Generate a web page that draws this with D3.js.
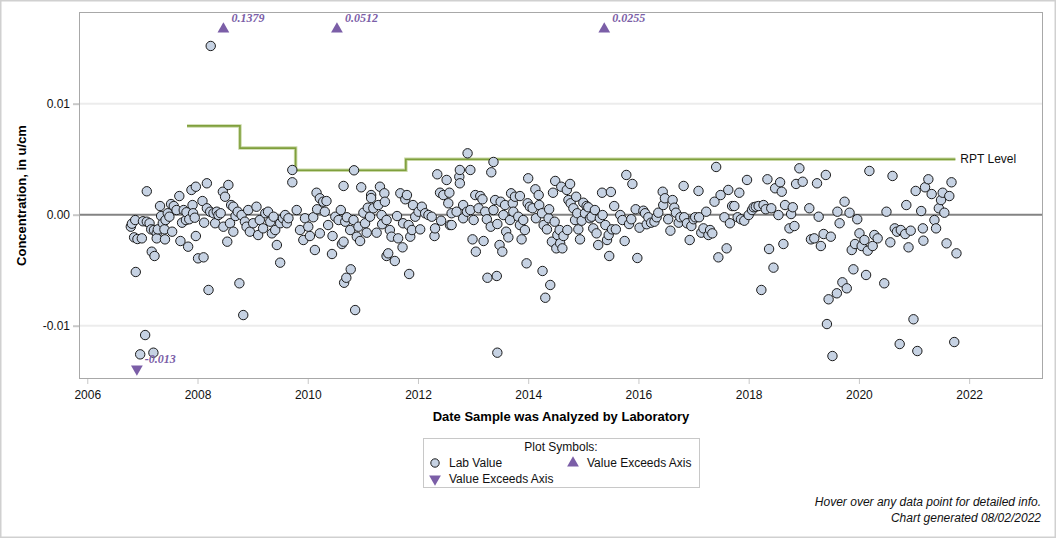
<!DOCTYPE html>
<html><head><meta charset="utf-8">
<script src="https://cdn.jsdelivr.net/npm/d3@7"></script>
<style>
html,body{margin:0;padding:0;background:#fff;}
svg{display:block;font-family:"Liberation Sans",Arial,sans-serif;}
</style></head>
<body><svg id="chart" width="1056" height="538"></svg>
<script>
// ---- data ----
const xTickYears = [2006,2008,2010,2012,2014,2016,2018,2020,2022];
const yTickValues = [-0.01, 0, 0.01];
const yTickLabels = ["-0.01","0.00","0.01"];

// RPT level steps (start dates and levels; last date ends the line)
const rptDates = [2007.81, 2008.77, 2009.78, 2011.78, 2021.75];
const rptLevels = [0.008, 0.006, 0.004, 0.005, 0.005];

// values exceeding axis
const exceedUpDates = [2008.47, 2010.53, 2015.38];
const exceedUpLabels = ["0.1379", "0.0512", "0.0255"];
const exceedDownDates = [2006.90];
const exceedDownLabels = ["-0.013"];

// lab values: [decimal year, concentration]
const labSamples = [
[2006.79,-0.00108],[2006.81,-0.00081],[2006.87,-0.00048],[2006.85,-0.00204],[2006.88,-0.00516],
[2006.91,-0.00219],[2006.99,-0.00213],[2006.96,-0.01258],[2007.01,-0.00059],[2007.05,-0.01084],
[2007.08,0.00211],[2007.08,-0.00063],[2007.13,-0.00077],[2007.17,-0.00333],[2007.20,-0.01243],
[2007.22,-0.00372],[2007.16,-0.00132],[2007.21,-0.00138],[2007.26,-0.00168],[2007.26,-0.00213],
[2007.28,-0.00132],[2007.32,0.00078],[2007.34,-0.00012],[2007.37,-0.00077],[2007.40,-0.00132],
[2007.41,-0.00222],[2007.42,-0.00048],[2007.46,0.00013],[2007.49,-0.00018],[2007.52,0.00096],
[2007.54,-0.00153],[2007.57,0.00078],[2007.62,0.00042],[2007.67,0.00168],[2007.69,-0.00237],
[2007.72,-0.00072],[2007.75,0.00042],[2007.79,-0.00048],[2007.80,0.00022],[2007.83,-0.00288],
[2007.85,-0.00041],[2007.89,0.00223],[2007.91,0.00087],[2007.92,0.00013],[2007.95,-0.00027],
[2007.97,0.00252],[2007.97,-0.00192],[2008.01,-0.00393],[2008.11,-0.00384],[2008.09,0.00123],
[2008.12,-0.00072],[2008.17,0.00283],[2008.20,-0.00678],[2008.17,0.00058],[2008.23,0.00027],
[2008.29,0.00013],[2008.32,-0.00077],[2008.35,0.00027],[2008.38,-0.00003],[2008.42,0.00013],
[2008.46,0.00207],[2008.50,0.00162],[2008.47,-0.00108],[2008.54,-0.00243],[2008.56,0.00268],
[2008.59,-0.00077],[2008.65,-0.00153],[2008.61,0.00087],[2008.65,0.00072],[2008.69,-0.00012],
[2008.73,0.00027],[2008.76,-0.00618],[2008.80,-0.00003],[2008.83,-0.00904],[2008.86,-0.00063],
[2008.89,-0.00108],[2008.92,0.00042],[2008.95,-0.00153],[2009.01,-0.00077],[2009.07,0.00072],
[2009.10,-0.00183],[2009.13,-0.00048],[2009.19,-0.00123],[2009.23,0.00013],[2009.28,0.00027],
[2009.32,-0.00063],[2009.35,-0.00168],[2009.38,-0.00018],[2009.41,-0.00138],[2009.44,-0.00273],
[2009.50,-0.00432],[2009.50,-0.00077],[2009.55,-0.00032],[2009.59,-0.00003],[2009.62,-0.00077],
[2008.24,0.0152],
[2009.72,0.00403],[2009.72,0.00292],[2009.65,-0.00032],[2009.80,0.00042],[2009.86,-0.00138],
[2009.92,-0.00228],[2009.95,-0.00032],[2010.01,-0.00108],[2010.04,-0.00192],[2010.10,-0.00023],
[2010.13,-0.00318],[2010.16,0.00198],[2010.17,0.00049],[2010.22,0.00148],[2010.22,-0.00168],
[2010.28,0.00117],[2010.31,0.00027],[2010.34,0.00123],[2010.37,-0.00093],[2010.44,-0.00354],
[2010.45,-0.00192],[2010.50,-0.00018],[2010.56,-0.00048],[2010.60,0.00042],[2010.62,-0.00264],
[2010.65,0.00259],[2010.65,-0.00243],[2010.68,-0.00063],[2010.71,-0.00023],[2010.66,-0.00613],
[2010.70,-0.00568],[2010.78,-0.00492],[2010.77,-0.00138],[2010.83,-0.00048],[2010.84,0.0040],
[2010.86,-0.00859],[2010.89,-0.00198],[2010.92,-0.00108],[2010.95,-0.00237],[2010.97,0.00247],
[2011.01,0.00018],[2011.04,-0.00077],[2011.07,-0.00162],[2011.09,0.00063],[2011.13,-0.00018],
[2011.15,0.00177],[2011.15,0.0015],[2011.19,0.00058],[2011.25,-0.00162],[2011.28,0.00087],
[2011.31,0.00252],[2011.34,-0.00003],[2011.35,-0.00086],[2011.39,0.00193],[2011.40,0.00117],
[2011.43,-0.00048],[2011.43,-0.00372],[2011.46,-0.00348],[2011.49,-0.00138],[2011.52,-0.00198],
[2011.58,-0.00417],[2011.62,-0.00012],[2011.64,-0.00213],[2011.68,0.00193],[2011.72,-0.00294],
[2011.73,-0.00077],[2011.77,0.00139],[2011.80,0.00177],[2011.83,-0.00093],[2011.84,-0.00534],
[2011.86,-0.00198],[2011.89,-0.00138],[2011.91,0.00087],[2011.95,-0.00018],[2012.01,0.00027],
[2012.04,-0.00132],[2012.07,0.00072],[2012.13,0.00013],[2012.19,-0.00003],[2012.25,-0.00018],
[2012.30,-0.00192],[2012.31,-0.00123],[2012.35,0.00364],[2012.40,0.00198],[2012.42,-0.00054],
[2012.46,0.00177],[2012.52,0.00313],[2012.55,0.00103],[2012.57,0.00198],[2012.58,-0.00093],
[2012.61,0.00013],[2012.61,-0.00093],[2012.70,0.00027],[2012.75,0.00342],[2012.76,0.00403],
[2012.76,0.00283],[2012.82,0.00087],[2012.82,-0.00032],[2012.89,0.00027],[2012.90,0.00553],
[2012.95,0.00403],[2012.95,0.00042],[2012.99,-0.00222],[2013.01,-0.00048],[2013.04,0.00177],
[2013.05,-0.00333],[2013.10,0.00058],[2013.13,0.00168],[2013.17,0.00139],[2013.19,-0.00237],
[2013.22,0.00027],[2013.25,-0.00041],[2013.26,-0.00568],[2013.32,-0.00108],[2013.33,0.00382],
[2013.37,0.00475],[2013.37,0.00042],[2013.40,0.00132],[2013.43,-0.00552],[2013.44,-0.00084],
[2013.44,-0.01243],[2013.48,-0.00273],[2013.50,0.00117],[2013.53,-0.00333],[2013.55,-0.00003],
[2013.58,0.00087],[2013.60,-0.00153],[2013.64,-0.00204],[2013.67,-0.00048],[2013.69,0.00193],
[2013.72,0.00103],[2013.73,0.00027],[2013.76,0.00162],[2013.82,-0.00018],[2013.85,-0.00093],
[2013.85,0.00168],[2013.88,-0.00222],[2013.91,-0.00048],[2013.94,-0.00138],[2013.97,-0.00438],
[2013.99,0.00103],[2014.00,0.00328],[2014.03,0.00072],[2014.08,0.00058],[2014.13,0.00229],
[2014.14,-0.00032],[2014.19,0.00177],[2014.20,0.00087],[2014.25,0.00013],[2014.26,-0.00507],
[2014.28,-0.00093],[2014.31,-0.00748],[2014.34,-0.00132],[2014.37,-0.00032],[2014.38,0.00049],
[2014.40,-0.00633],[2014.43,-0.00243],[2014.45,0.00198],[2014.48,-0.00063],[2014.49,0.00304],
[2014.51,-0.00303],[2014.53,-0.00183],[2014.57,-0.00138],[2014.58,-0.00258],[2014.60,0.00252],
[2014.62,-0.00303],[2014.64,-0.00192],[2014.70,0.00223],[2014.71,-0.00138],[2014.73,0.00132],
[2014.76,0.00277],[2014.77,0.00103],[2014.82,0.00058],[2014.85,-0.00048],[2014.87,0.00162],
[2014.89,0.00013],[2014.91,-0.00132],[2014.94,-0.00222],[2014.97,-0.00054],[2015.00,0.00108],
[2015.03,0.00013],[2015.06,0.00078],[2015.09,0.00067],[2015.12,-0.00032],[2015.15,-0.00018],
[2015.18,-0.00123],[2015.21,0.00042],[2015.24,-0.00168],[2015.27,-0.00273],[2015.30,-0.00032],
[2015.34,0.00198],[2015.35,-0.00003],[2015.40,-0.00093],[2015.43,-0.00228],[2015.46,-0.00183],
[2015.47,-0.00372],[2015.50,0.00205],[2015.52,-0.00132],[2015.56,0.00078],[2015.59,-0.00132],
[2015.67,-0.00003],[2015.71,-0.00048],[2015.75,-0.00237],[2015.78,0.00358],[2015.83,-0.00084],
[2015.87,-0.00041],[2015.89,0.00277],[2015.95,0.00049],[2015.98,-0.0039],[2016.02,-0.00117],
[2016.09,0.00036],[2016.12,0.00013],[2016.15,-0.00086],[2016.18,-0.00023],[2016.23,-0.00072],
[2016.29,-0.00063],[2016.33,-0.00023],[2016.36,0.00018],[2016.44,0.00207],[2016.45,0.00087],
[2016.48,0.00148],[2016.54,-0.00041],[2016.58,-0.00144],[2016.62,0.00132],[2016.65,0.00063],
[2016.68,0.00018],[2016.73,-0.00072],[2016.76,-0.00023],[2016.82,0.00259],[2016.83,-0.00023],
[2016.88,-0.00077],[2016.93,-0.00228],[2016.96,-0.00102],[2017.00,-0.00041],[2017.03,-0.00023],
[2017.09,0.00214],[2017.10,-0.00023],[2017.14,-0.00162],[2017.18,-0.00123],[2017.23,0.00027],
[2017.27,-0.00183],[2017.30,-0.00138],[2017.34,-0.00168],[2017.38,0.00117],[2017.41,0.0043],
[2017.45,-0.00384],[2017.49,0.00177],[2017.56,-0.00023],[2017.60,-0.00303],[2017.63,0.00223],
[2017.66,-0.00077],[2017.70,0.00078],[2017.74,0.00078],[2017.80,-0.00023],[2017.83,0.00198],
[2017.86,-0.00041],[2017.92,-0.00054],[2017.97,0.00313],[2018.00,-0.00003],[2018.06,0.00042],
[2018.09,0.00067],[2018.13,0.00072],[2018.18,0.00078],[2018.23,-0.00678],[2018.27,0.00087],
[2018.31,0.00049],[2018.34,0.00319],[2018.37,-0.00309],[2018.41,0.00058],[2018.45,-0.00477],
[2018.48,0.00238],[2018.54,-0.00003],[2018.57,0.00292],[2018.60,0.00207],[2018.63,-0.00264],
[2018.66,0.00087],[2018.74,-0.00123],[2018.77,0.00006],[2018.80,0.00067],[2018.83,-0.00102],
[2018.86,0.00277],[2018.92,0.00418],[2018.98,0.00297],[2019.10,0.00058],[2019.13,-0.00222],
[2019.19,-0.00213],[2019.24,0.00283],[2019.27,-0.00018],[2019.31,-0.00282],[2019.36,-0.00174],
[2019.40,0.00358],[2019.42,-0.00985],[2019.45,-0.00762],[2019.49,-0.00198],[2019.52,-0.01273],
[2019.60,-0.00708],[2019.61,0.00027],[2019.65,-0.00077],[2019.70,-0.00609],[2019.74,0.00117],
[2019.78,-0.00663],[2019.83,0.00018],[2019.87,-0.00318],[2019.90,-0.00492],[2019.93,-0.00264],
[2019.97,-0.00041],[2020.01,-0.00168],[2020.05,-0.00282],[2020.10,-0.00228],[2020.13,-0.00543],
[2020.16,-0.00324],[2020.19,0.00394],[2020.25,-0.00282],[2020.28,-0.00183],[2020.34,-0.00213],
[2020.46,-0.00618],[2020.50,0.00027],[2020.57,-0.00249],[2020.61,0.00349],[2020.65,-0.00123],
[2020.69,-0.00153],[2020.74,-0.01165],[2020.76,-0.00138],[2020.84,-0.00174],[2020.86,0.00087],
[2020.90,-0.00294],[2020.94,-0.00144],[2020.99,-0.00942],[2021.03,0.00214],[2021.06,-0.01228],
[2021.13,0.00033],[2021.16,-0.00123],[2021.17,-0.00234],[2021.20,0.00247],[2021.26,0.00319],
[2021.32,0.00186],[2021.37,-0.00048],[2021.40,-0.00123],[2021.45,0.00058],[2021.49,0.00132],
[2021.52,0.00198],[2021.55,0.00018],[2021.59,-0.00258],[2021.64,0.00168],[2021.68,0.00292],
[2021.73,-0.01147],[2021.77,-0.00348]
];

// ---- layout ----
const svg = d3.select("#chart");
const L = 79, R = 1043, T = 12, B = 379;
const x = d3.scaleLinear().domain([2005.85, 2023.34]).range([L, R]);
const y = d3.scaleLinear().domain([-0.0148, 0.01826]).range([B, T]);
const purple = "#7b5ea7";
const fillC = "#c6d2e3";

// outer border
svg.append("rect").attr("x",0.5).attr("y",0.5).attr("width",1055).attr("height",537)
  .attr("fill","none").attr("stroke","#d0d0d0").attr("stroke-width",2);

// gridlines
svg.append("g").selectAll("line").data(yTickValues.filter(v=>v!==0)).join("line")
  .attr("x1",L).attr("x2",R).attr("y1",d=>y(d)).attr("y2",d=>y(d))
  .attr("stroke","#ececec").attr("stroke-width",2);
// zero reference
svg.append("line").attr("x1",L).attr("x2",R).attr("y1",y(0)).attr("y2",y(0))
  .attr("stroke","#838383").attr("stroke-width",2);

// axes
const yAxis = d3.axisLeft(y).tickValues(yTickValues).tickFormat((d,i)=>yTickLabels[i]).tickSize(6).tickPadding(3);
const gy = svg.append("g").attr("transform",`translate(${L},0)`).call(yAxis);
gy.select(".domain").remove();
gy.selectAll(".tick line").attr("stroke","#c8c8c8").attr("stroke-width",2);
gy.selectAll(".tick text").attr("font-size",12).attr("fill","#111").attr("font-family","Liberation Sans, Arial, sans-serif");

const xAxis = d3.axisBottom(x).tickValues(xTickYears).tickFormat(d3.format("d")).tickSize(5).tickPadding(6);
const gx = svg.append("g").attr("transform",`translate(0,${B})`).call(xAxis);
gx.select(".domain").remove();
gx.selectAll(".tick line").attr("stroke","#c8c8c8").attr("stroke-width",1);
gx.selectAll(".tick text").attr("font-size",12).attr("fill","#111").attr("font-family","Liberation Sans, Arial, sans-serif");

// frame
svg.append("rect").attr("x",L+0.5).attr("y",T+0.5).attr("width",R-L-1).attr("height",B-T-1)
  .attr("fill","none").attr("stroke","#a8a8a8").attr("stroke-width",1);

// RPT step line
const rptPts = rptDates.map((d,i)=>[d, rptLevels[i]]);
const stepLine = d3.line().x(d=>x(d[0])).y(d=>y(d[1])).curve(d3.curveStepAfter);
svg.append("path").attr("d",stepLine(rptPts)).attr("fill","none")
  .attr("stroke","#c9d8a6").attr("stroke-width",3.5);
svg.append("path").attr("d",stepLine(rptPts)).attr("fill","none")
  .attr("stroke","#7f9f3c").attr("stroke-width",1.6);
svg.append("text").attr("x",x(rptDates[rptDates.length-1])+5).attr("y",y(rptLevels[rptLevels.length-1])+4)
  .attr("font-size",12).attr("fill","#111").text("RPT Level");

// lab value points
svg.append("g").selectAll("circle").data(labSamples).join("circle")
  .attr("cx",d=>x(d[0])).attr("cy",d=>y(d[1])).attr("r",4.7)
  .attr("fill",fillC).attr("stroke","#1b1b1b").attr("stroke-width",1);

// exceed markers
const triUp = d3.symbol().type(d3.symbolTriangle).size(60);
svg.append("g").selectAll("path").data(exceedUpDates).join("path")
  .attr("d",triUp()).attr("transform",d=>`translate(${x(d)},${T+17})`).attr("fill",purple);
svg.append("g").selectAll("text").data(exceedUpDates).join("text")
  .attr("x",d=>x(d)+8).attr("y",T+9.5)
  .attr("font-size",12).attr("font-weight","bold").attr("font-style","italic")
  .attr("font-family","Liberation Serif, Times New Roman, serif")
  .attr("fill",purple).text((d,i)=>exceedUpLabels[i]);
svg.append("g").selectAll("path").data(exceedDownDates).join("path")
  .attr("d",triUp()).attr("transform",d=>`translate(${x(d)},${B-10}) rotate(180)`).attr("fill",purple);
svg.append("g").selectAll("text").data(exceedDownDates).join("text")
  .attr("x",d=>x(d)+8).attr("y",B-16)
  .attr("font-size",12).attr("font-weight","bold").attr("font-style","italic")
  .attr("font-family","Liberation Serif, Times New Roman, serif")
  .attr("fill",purple).text((d,i)=>exceedDownLabels[i]);

// axis titles
svg.append("text").attr("transform",`translate(26,${(T+B)/2}) rotate(-90)`).attr("text-anchor","middle")
  .attr("font-size",13).attr("font-weight","bold").attr("fill","#000").text("Concentration, in u/cm");
svg.append("text").attr("x",561).attr("y",421).attr("text-anchor","middle")
  .attr("font-size",13).attr("font-weight","bold").attr("fill","#000").text("Date Sample was Analyzed by Laboratory");

// legend
const lg = svg.append("g");
lg.append("rect").attr("x",423.5).attr("y",438.5).attr("width",276).attr("height",49)
  .attr("fill","none").attr("stroke","#c8c8c8").attr("stroke-width",1);
lg.append("text").attr("x",561).attr("y",451).attr("text-anchor","middle").attr("font-size",12).attr("fill","#111").text("Plot Symbols:");
lg.append("circle").attr("cx",435).attr("cy",463).attr("r",4.2).attr("fill",fillC).attr("stroke","#1b1b1b");
lg.append("text").attr("x",449).attr("y",467).attr("font-size",12).attr("fill","#111").text("Lab Value");
lg.append("path").attr("d",triUp()).attr("transform","translate(573,463)").attr("fill",purple);
lg.append("text").attr("x",587).attr("y",467).attr("font-size",12).attr("fill","#111").text("Value Exceeds Axis");
lg.append("path").attr("d",triUp()).attr("transform","translate(435,479) rotate(180)").attr("fill",purple);
lg.append("text").attr("x",449).attr("y",483).attr("font-size",12).attr("fill","#111").text("Value Exceeds Axis");

// footer
svg.append("text").attr("x",1041).attr("y",506).attr("text-anchor","end").attr("font-size",12)
  .attr("font-style","italic").attr("fill","#111").text("Hover over any data point for detailed info.");
svg.append("text").attr("x",1041).attr("y",522).attr("text-anchor","end").attr("font-size",12)
  .attr("font-style","italic").attr("fill","#111").text("Chart generated 08/02/2022");
</script>
</body></html>
